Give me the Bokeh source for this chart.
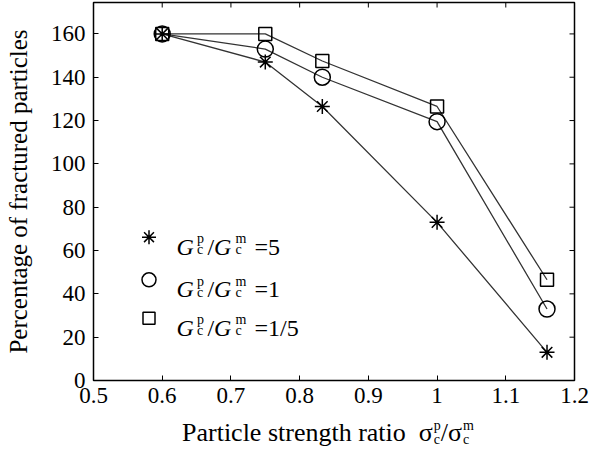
from bokeh.plotting import figure
from bokeh.models import (Range1d, FixedTicker, PrintfTickFormatter, Label, Div)
from bokeh.layouts import column
from bokeh.embed import file_html
from bokeh.resources import INLINE

# ---- data ----
ratio = [0.6, 0.75, 0.833, 1.0, 1.16]
frac_g5 = [160, 147, 126.5, 73, 13]
frac_g1 = [160, 153, 140, 119.5, 33]
frac_g02 = [160, 160, 147.5, 126.5, 46.5]
x_ticks = [0.5, 0.6, 0.7, 0.8, 0.9, 1.0, 1.1, 1.2]
y_ticks = [0, 20, 40, 60, 80, 100, 120, 140, 160]
legend_values = ["=5", "=1", "=1/5"]

FONT = "Liberation Serif"
W, H = 597, 418
ML, MR, MT, MB = 93, 23, 2, 38
XR = (0.5, 1.2)
YR = (0, 174.5)

p = figure(width=W, height=H, output_backend="svg", toolbar_location=None,
           x_range=Range1d(*XR), y_range=Range1d(*YR),
           min_border_left=ML, min_border_right=MR, min_border_top=MT,
           min_border_bottom=MB)
p.grid.visible = False
p.outline_line_color = "black"
p.outline_line_width = 1.5
p.background_fill_color = "white"
p.border_fill_color = "white"

for ax in (p.xaxis[0], p.yaxis[0]):
    ax.major_tick_in = 5
    ax.major_tick_out = 0
    ax.minor_tick_line_color = None
    ax.axis_line_color = None
    ax.major_tick_line_color = "black"
    ax.major_tick_line_width = 1
    ax.major_label_text_font = FONT
    ax.major_label_text_font_size = "23px"
    ax.major_label_text_color = "black"
    ax.formatter = PrintfTickFormatter(format="%g")

p.xaxis[0].major_label_standoff = 7
p.yaxis[0].major_label_standoff = 8
p.xaxis[0].ticker = FixedTicker(ticks=x_ticks)
p.yaxis[0].ticker = FixedTicker(ticks=y_ticks)

p.yaxis[0].axis_label = "Percentage of fractured particles"
p.yaxis[0].axis_label_text_font = FONT
p.yaxis[0].axis_label_text_font_size = "25px"
p.yaxis[0].axis_label_text_font_style = "normal"
p.yaxis[0].axis_label_text_color = "black"
p.yaxis[0].axis_label_standoff = 16

fw = W - ML - MR
fh = H - MT - MB
def px2x(px):
    return XR[0] + px / fw * (XR[1] - XR[0])
def px2y(py):
    return YR[0] + py / fh * (YR[1] - YR[0])

# inward ticks on top and right edges (mirroring the bottom/left tick arrays)
tick_dx = px2x(5) - XR[0]
tick_dy = px2y(5) - YR[0]
p.segment(x0=x_ticks, y0=[YR[1]] * len(x_ticks), x1=x_ticks,
          y1=[YR[1] - tick_dy] * len(x_ticks), line_color="black", line_width=1)
p.segment(x0=[XR[1]] * len(y_ticks), y0=y_ticks, x1=[XR[1] - tick_dx] * len(y_ticks),
          y1=y_ticks, line_color="black", line_width=1)

LC = "#333333"
p.line(ratio, frac_g5, line_color=LC, line_width=1.3)
p.line(ratio, frac_g1, line_color=LC, line_width=1.3)
p.line(ratio, frac_g02, line_color=LC, line_width=1.3)
p.scatter(ratio, frac_g5, marker="asterisk", size=15, line_color="black", line_width=1.5)
p.scatter(ratio, frac_g1, marker="circle", size=16, fill_color="white", fill_alpha=0,
          line_color="black", line_width=1.5)
p.scatter(ratio, frac_g02, marker="square", size=13, fill_color="white", fill_alpha=0,
          line_color="black", line_width=1.5)

def lab(x, y, text, size, style="normal"):
    p.add_layout(Label(x=x, y=y, x_units="screen", y_units="screen", text=text,
                       text_font=FONT, text_font_size=f"{size}px",
                       text_font_style=style, text_baseline="alphabetic",
                       text_color="black"))

# legend
sw_x = 55.5
rows_y = [143.3, 100.7, 62.3]
markers = ["asterisk", "circle", "square"]
msizes = [14, 14, 12]
for i, (ry, mk, ms) in enumerate(zip(rows_y, markers, msizes)):
    p.scatter([px2x(sw_x)], [px2y(ry)], marker=mk, size=ms, fill_alpha=0,
              line_color="black", line_width=1.5)
    base = ry - 9.3
    x0 = 83
    lab(x0, base, "G", 24, "italic")
    lab(x0 + 20.5, base + 8, "p", 14)
    lab(x0 + 20.5, base - 3, "c", 14)
    lab(x0 + 31, base, "/", 24)
    lab(x0 + 37.5, base, "G", 24, "italic")
    lab(x0 + 59, base + 8, "m", 14)
    lab(x0 + 59, base - 3, "c", 14)
    lab(x0 + 78, base, legend_values[i], 24)

# x axis label as HTML (stacked sub/superscripts)
stack = ('<span style="display:inline-block;vertical-align:-3px;font-size:14px;'
         'line-height:14px;text-align:left;margin-left:1px">'
         '<span style="display:block">{sup}</span><span style="display:block">{sub}</span></span>')
xlabel_html = ('<div style="font-family:\'Liberation Serif\';font-size:26px;line-height:30px;'
               'color:black;white-space:nowrap;padding-left:182px">'
               'Particle strength ratio&nbsp;&nbsp;&sigma;' + stack.format(sup="p", sub="c") +
               '/&sigma;' + stack.format(sup="m", sub="c") + '</div>')
xlabel = Div(text=xlabel_html, width=W, height=39, margin=(0, 0, 0, 0))

layout = column(p, xlabel, spacing=0)
open("out.html", "w").write(file_html(layout, INLINE))
